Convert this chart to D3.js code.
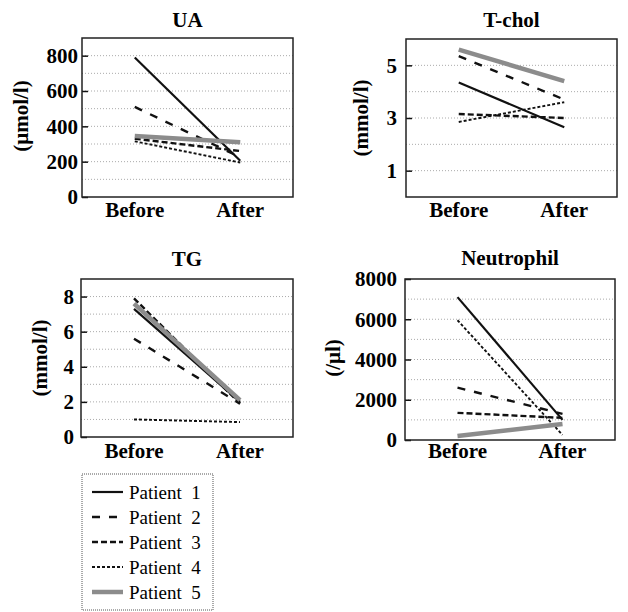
<!DOCTYPE html>
<html>
<head>
<meta charset="utf-8">
<script src="https://cdn.jsdelivr.net/npm/d3@7"></script>
</head>
<body>
<script>
// data
var timepoints = ["Before", "After"];
var patients = ["Patient 1", "Patient 2", "Patient 3", "Patient 4", "Patient 5"];

var uaBefore = [790, 510, 330, 315, 345];
var uaAfter  = [205, 225, 260, 195, 310];
var uaTicks  = [0, 200, 400, 600, 800];

var tcholBefore = [4.35, 5.35, 3.15, 2.85, 5.6];
var tcholAfter  = [2.65, 3.7, 3.0, 3.6, 4.4];
var tcholTicks  = [1, 3, 5];

var tgBefore = [7.3, 5.6, 7.9, 1.0, 7.6];
var tgAfter  = [2.0, 1.9, 1.9, 0.85, 2.1];
var tgTicks  = [0, 2, 4, 6, 8];

var neuBefore = [7100, 2600, 1350, 5950, 200];
var neuAfter  = [1000, 1300, 1100, 250, 800];
var neuTicks  = [0, 2000, 4000, 6000, 8000];

var serif = "Liberation Serif";

// line styles per patient
var styles = [
  {stroke: "#111", width: 2.2, dash: null},
  {stroke: "#111", width: 2.4, dash: "8,9"},
  {stroke: "#111", width: 2.4, dash: "6,3"},
  {stroke: "#111", width: 1.9, dash: "3,2"},
  {stroke: "#8c8c8c", width: 4.5, dash: null}
];

d3.select("body").style("margin", "0px");

var svg = d3.select("body").append("svg")
    .attr("width", 628)
    .attr("height", 612)
    .attr("font-family", serif);

var panels = [
  {title: "UA", ylab: "(\u03bcmol/l)", before: uaBefore, after: uaAfter, ticks: uaTicks, max: 900, grid: 100,
   x0: 82, x1: 293, y0: 38, y1: 197, titleY: 27, labX: 21, labY: 116, xlabY: 217, tickGap: 4},
  {title: "T-chol", ylab: "(mmol/l)", before: tcholBefore, after: tcholAfter, ticks: tcholTicks, max: 6, grid: 1,
   x0: 406, x1: 617, y0: 39, y1: 197, titleY: 27, labX: 361, labY: 118, xlabY: 217, tickGap: 9},
  {title: "TG", ylab: "(mmol/l)", before: tgBefore, after: tgAfter, ticks: tgTicks, max: 9, grid: 1,
   x0: 81, x1: 293, y0: 279, y1: 437, titleY: 266, labX: 40, labY: 358, xlabY: 458, tickGap: 7},
  {title: "Neutrophil", ylab: "(/\u03bcl)", before: neuBefore, after: neuAfter, ticks: neuTicks, max: 8000, grid: 1000,
   x0: 405, x1: 615, y0: 279, y1: 440, titleY: 265, labX: 333, labY: 358, xlabY: 458, tickGap: 8}
];

panels.forEach(function(p) {
  var x = d3.scalePoint().domain(timepoints).range([p.x0, p.x1]).padding(0.5);
  var y = d3.scaleLinear().domain([0, p.max]).range([p.y1, p.y0]);
  var g = svg.append("g");

  // dotted grid
  var gridVals = d3.range(p.grid, p.max, p.grid);
  g.selectAll("line.grid").data(gridVals).enter().append("line")
      .attr("x1", p.x0).attr("x2", p.x1)
      .attr("y1", function(d) { return y(d); })
      .attr("y2", function(d) { return y(d); })
      .attr("stroke", "#aaa")
      .attr("stroke-width", 1)
      .attr("stroke-dasharray", "1,2");

  // y axis: inward ticks, labels on the left
  var ax = g.append("g")
      .attr("transform", "translate(" + p.x0 + ",0)")
      .call(d3.axisRight(y).tickValues(p.ticks).tickSize(6).tickFormat(""));
  ax.select(".domain").remove();
  ax.selectAll("line").attr("stroke", "#111").attr("stroke-width", 1.5);

  g.selectAll("text.tick").data(p.ticks).enter().append("text")
      .attr("x", p.x0 - p.tickGap)
      .attr("y", function(d) { return y(d); })
      .attr("dy", "0.35em")
      .attr("text-anchor", "end")
      .attr("font-family", serif)
      .attr("font-size", 21)
      .attr("font-weight", "bold")
      .text(function(d) { return d; });

  // patient lines
  patients.forEach(function(name, i) {
    var pts = [[x("Before"), y(p.before[i])], [x("After"), y(p.after[i])]];
    var s = styles[i];
    g.append("path")
        .attr("d", d3.line()(pts))
        .attr("fill", "none")
        .attr("stroke", s.stroke)
        .attr("stroke-width", s.width)
        .attr("stroke-dasharray", s.dash);
  });

  // frame
  g.append("rect")
      .attr("x", p.x0).attr("y", p.y0)
      .attr("width", p.x1 - p.x0).attr("height", p.y1 - p.y0)
      .attr("fill", "none")
      .attr("stroke", "#222")
      .attr("stroke-width", 1.5);

  // x labels
  g.selectAll("text.xl").data(timepoints).enter().append("text")
      .attr("x", function(d) { return x(d); })
      .attr("y", p.xlabY)
      .attr("text-anchor", "middle")
      .attr("font-family", serif)
      .attr("font-size", 21)
      .attr("font-weight", "bold")
      .text(function(d) { return d; });

  // title
  g.append("text")
      .attr("x", (p.x0 + p.x1) / 2)
      .attr("y", p.titleY)
      .attr("text-anchor", "middle")
      .attr("font-family", serif)
      .attr("font-size", 21)
      .attr("font-weight", "bold")
      .text(p.title);

  // y label
  g.append("text")
      .attr("transform", "translate(" + p.labX + "," + p.labY + ") rotate(-90)")
      .attr("text-anchor", "middle")
      .attr("dominant-baseline", "central")
      .attr("font-family", serif)
      .attr("font-size", 21)
      .attr("font-weight", "bold")
      .text(p.ylab);
});

// legend
var legend = svg.append("g");
legend.append("rect")
    .attr("x", 82).attr("y", 474)
    .attr("width", 131).attr("height", 136)
    .attr("fill", "none")
    .attr("stroke", "#555")
    .attr("stroke-width", 1)
    .attr("stroke-dasharray", "1,1");

var ly = d3.scalePoint().domain(patients).range([492, 592]);

patients.forEach(function(name, i) {
  var s = styles[i];
  legend.append("line")
      .attr("x1", 92).attr("x2", 123)
      .attr("y1", ly(name)).attr("y2", ly(name))
      .attr("stroke", s.stroke)
      .attr("stroke-width", s.width)
      .attr("stroke-dasharray", s.dash);
  legend.append("text")
      .attr("x", 129)
      .attr("y", ly(name))
      .attr("dy", "0.35em")
      .attr("font-family", serif)
      .attr("font-size", 19)
      .text(name.replace(" ", "\u2002"));
});
</script>
</body>
</html>
